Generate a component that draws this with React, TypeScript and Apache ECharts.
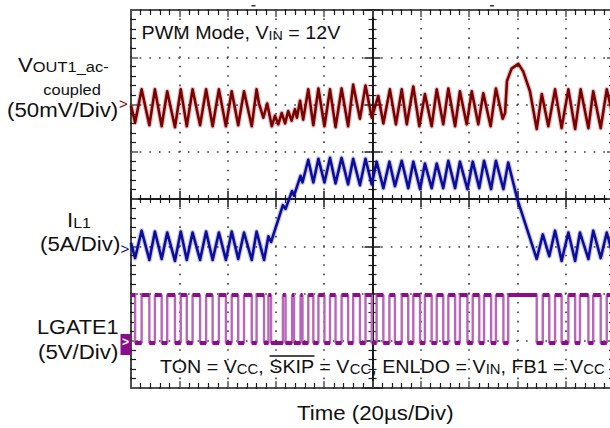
import React, { useEffect, useRef } from 'react';
import * as echarts from 'echarts';

// ---------- scope settings ----------
const TIME_MIN_US = -100;
const TIME_MAX_US = 100;
const TIME_US_PER_DIV = 20;
const DIV_MIN = -4;
const DIV_MAX = 4;

const VOUT_OFFSET_DIV = 2;
const VOUT_MV_PER_DIV = 50;
const IL_OFFSET_DIV = -1.05;
const IL_A_PER_DIV = 5;
const LGATE_OFFSET_DIV = -3.05;
const LGATE_V_PER_DIV = 5;

// ---------- traces ----------
// VOUT1 (ac-coupled): [time µs, mV]
const VOUT_TRACE: number[][] = [
  [-100.0, -1], [-98.3, -19], [-95.6, 16], [-92.4, -22], [-90.1, 16], [-87.3, -23], [-85.0, 14], [-81.8, -24],
  [-79.4, 16], [-76.9, -23], [-74.5, 16], [-71.4, -22], [-68.9, 16], [-66.2, -23], [-63.6, 16], [-60.7, -23],
  [-58.3, 14], [-55.6, -22], [-53.2, 14], [-50.0, -23], [-48.0, 16], [-47.0, 1], [-45.2, -14], [-43.6, 1],
  [-41.7, -23], [-40.4, -12], [-39.0, -21], [-37.6, -9], [-36.2, -20], [-34.9, -7], [-33.5, -17], [-32.1, -5],
  [-31.3, -14], [-30.0, 4], [-28.7, -16], [-26.6, 16], [-24.5, -22], [-22.4, 17], [-19.9, -23], [-17.6, 16],
  [-15.3, -24], [-12.8, 17], [-10.1, -23], [-8.0, 21], [-5.2, -15], [-2.9, 20], [-0.3, -14], [2.4, 9],
  [4.5, -20], [7.2, 16], [9.7, -21], [12.1, 16], [14.2, -21], [16.9, 19], [19.4, -23], [21.7, 11],
  [24.5, -23], [26.6, 16], [29.3, -21], [31.4, 17], [34.2, -23], [36.2, 14], [39.0, -21], [41.1, 14],
  [43.8, -21], [45.9, 12], [48.9, -23], [51.1, 17], [53.9, -15], [54.9, -9], [55.7, 25], [57.6, 38],
  [60.4, 43], [62.4, 35], [65.2, 14], [68.0, -26], [70.1, 11], [72.8, -23], [75.6, 16], [78.3, -25],
  [81.1, 16], [83.9, -26], [86.2, 16], [89.4, -25], [91.4, 14], [94.5, -25], [97.0, 16], [100.0, -17],
];

// IL1: [time µs, A]
const IL_TRACE: number[][] = [
  [-100.0, 0.6], [-98.3, -1.0], [-95.6, 1.9], [-92.4, -1.2], [-90.1, 1.8], [-87.3, -1.1], [-85.0, 1.7],
  [-81.8, -1.3], [-79.4, 1.8], [-76.9, -1.2], [-74.5, 1.7], [-71.4, -1.2], [-68.9, 1.8], [-66.2, -1.2],
  [-63.6, 1.7], [-60.7, -1.2], [-58.3, 1.8], [-55.6, -1.1], [-53.2, 1.7], [-50.0, -1.2], [-48.0, 1.8],
  [-44.9, -1.2], [-43.1, 1.3], [-42.0, 0.7], [-37.1, 4.6], [-36.0, 4.2], [-33.3, 6.1], [-32.5, 5.6],
  [-29.8, 7.7], [-29.0, 7.0], [-26.6, 9.4], [-24.5, 7.0], [-22.4, 9.5], [-19.9, 7.0], [-17.6, 9.6],
  [-15.3, 6.9], [-12.8, 9.6], [-10.1, 6.8], [-8.0, 9.5], [-5.2, 6.7], [-2.9, 9.5], [-0.3, 6.8], [1.7, 9.2],
  [4.5, 6.4], [7.0, 9.2], [9.3, 6.6], [12.1, 9.3], [14.8, 6.4], [16.9, 9.2], [19.7, 6.3], [21.7, 9.0],
  [24.5, 6.4], [26.6, 9.0], [29.3, 6.4], [31.4, 9.3], [34.2, 6.4], [36.2, 9.2], [39.3, 6.3], [41.5, 9.2],
  [44.2, 6.4], [46.2, 9.3], [49.1, 6.3], [51.1, 9.3], [54.2, 6.3], [56.2, 9.1], [60.0, 5.2], [68.0, -1.1],
  [70.5, 1.5], [73.2, -0.8], [75.6, 1.9], [78.3, -1.3], [81.1, 1.7], [83.9, -1.3], [85.9, 1.7], [89.4, -1.1],
  [91.4, 1.9], [94.5, -1.0], [97.0, 1.7], [100.0, -1.1],
];

// LGATE1 edges (µs); trace starts high
const LGATE_FALL_US = [
  -98.3, -92.4, -87.3, -81.8, -76.9, -71.4, -66.2, -60.7, -55.6, -50.0, -44.9, -42.0, -36.0, -32.5, -29.0,
  -24.5, -19.9, -15.3, -10.1, -5.2, -0.3, 4.5, 9.3, 14.8, 19.7, 24.5, 29.3, 34.2, 39.3, 44.2, 49.1, 54.2,
  68.0, 73.2, 78.3, 83.9, 89.4, 94.5,
];
const LGATE_RISE_US = [
  -95.6, -90.1, -85.0, -79.4, -74.5, -68.9, -63.6, -58.3, -53.2, -48.0, -43.1, -37.1, -33.3, -29.8, -26.6,
  -22.4, -17.6, -12.8, -8.0, -2.9, 1.7, 7.0, 12.1, 16.9, 21.7, 26.6, 31.4, 36.2, 41.5, 46.2, 51.1, 56.2,
  70.5, 75.6, 81.1, 85.9, 91.4, 97.0,
];
const LGATE_HIGH_V = 5.1;
const LGATE_LOW_V = 0;

// ---------- styles ----------
const FONT = '"Liberation Sans", Arial, Helvetica, sans-serif';
const fnt = (s: number) => `${s}px ${FONT}`;
const TEXT_COLOR = '#111';
const FRAME = '#1a1a1a';
const DOT = '#3a3a3a';
const VOUT_COLOR = '#7d0000';
const IL_COLOR = '#0d0d9c';
const LGATE_COLOR = '#8c0c8c';
const LGATE_EDGE = '#b866b8';
const SX = 1.06;

function richPair(main: number, mainLH: number, sub: number, subLH: number) {
  return {
    m: { font: fnt(main), fill: TEXT_COLOR, lineHeight: mainLH, verticalAlign: 'bottom' },
    s: { font: fnt(sub), fill: TEXT_COLOR, lineHeight: subLH, verticalAlign: 'bottom' },
  };
}

function txt(x: number, y: number, text: string, size: number, rich?: any) {
  return {
    type: 'text', x, y, scaleX: SX, z: 100,
    style: { text, font: fnt(size), fill: TEXT_COLOR, align: 'left', verticalAlign: 'middle', rich },
  };
}

function buildOption() {
  const vout = VOUT_TRACE.map(([t, mv]) => [t, VOUT_OFFSET_DIV + mv / VOUT_MV_PER_DIV]);
  const il = IL_TRACE.map(([t, a]) => [t, IL_OFFSET_DIV + a / IL_A_PER_DIV]);

  const lg = (v: number) => LGATE_OFFSET_DIV + v / LGATE_V_PER_DIV;
  const edges = [
    ...LGATE_FALL_US.map((t) => ({ t, v: LGATE_LOW_V })),
    ...LGATE_RISE_US.map((t) => ({ t, v: LGATE_HIGH_V })),
  ].sort((a, b) => a.t - b.t);
  let level = LGATE_HIGH_V;
  let segStart = TIME_MIN_US;
  const step: number[][] = [[TIME_MIN_US, lg(level)]];
  const segs: any[] = [];
  for (const e of edges) {
    step.push([e.t, lg(level)]);
    segs.push({ coords: [[segStart, lg(level)], [e.t, lg(level)]] });
    level = e.v;
    segStart = e.t;
    step.push([e.t, lg(level)]);
  }
  step.push([TIME_MAX_US, lg(level)]);
  segs.push({ coords: [[segStart, lg(level)], [TIME_MAX_US, lg(level)]] });

  const frameX = (position: 'top' | 'bottom', grid: boolean) => ({
    type: 'value', min: TIME_MIN_US, max: TIME_MAX_US, interval: TIME_US_PER_DIV, position,
    axisLine: { show: true, onZero: false, lineStyle: { color: FRAME, width: 1.6 } },
    axisTick: { show: true, inside: true, length: 7, lineStyle: { color: '#555', width: 1.5 } },
    minorTick: { show: true, splitNumber: 5, length: 5, lineStyle: { color: FRAME, width: 1.2 } },
    axisLabel: { show: false },
    splitLine: grid
      ? { show: true, lineStyle: { color: DOT, width: 1.6, type: [1.6, 7.85], dashOffset: 0.8 } }
      : { show: false },
  });
  const centerX = (position: 'top' | 'bottom') => ({
    type: 'value', min: TIME_MIN_US, max: TIME_MAX_US, interval: TIME_US_PER_DIV, position,
    axisLine: { show: true, onZero: true, onZeroAxisIndex: 0, lineStyle: { color: FRAME, width: 1.8 } },
    axisTick: { show: true, inside: true, length: 8, lineStyle: { color: FRAME, width: 1.5 } },
    minorTick: { show: true, splitNumber: 5, length: 4, lineStyle: { color: FRAME, width: 1.2 } },
    axisLabel: { show: false }, splitLine: { show: false },
  });
  const frameY = (position: 'left' | 'right', grid: boolean) => ({
    type: 'value', min: DIV_MIN, max: DIV_MAX, interval: 1, position,
    axisLine: { show: true, onZero: false, lineStyle: { color: FRAME, width: 1.6 } },
    axisTick: { show: true, inside: true, length: 7, lineStyle: { color: '#555', width: 1.5 } },
    minorTick: { show: true, splitNumber: 5, length: 5, lineStyle: { color: FRAME, width: 1.2 } },
    axisLabel: { show: false },
    splitLine: grid
      ? { show: true, lineStyle: { color: DOT, width: 1.6, type: [1.6, 8.06], dashOffset: 0.8 } }
      : { show: false },
  });
  const centerY = (position: 'left' | 'right') => ({
    type: 'value', min: DIV_MIN, max: DIV_MAX, interval: 1, position,
    axisLine: { show: true, onZero: true, onZeroAxisIndex: 0, lineStyle: { color: FRAME, width: 1.8 } },
    axisTick: { show: true, inside: true, length: 8, lineStyle: { color: FRAME, width: 1.5 } },
    minorTick: { show: true, splitNumber: 5, length: 4, lineStyle: { color: FRAME, width: 1.2 } },
    axisLabel: { show: false }, splitLine: { show: false },
  });

  const trace = (name: string, data: number[][], color: string) => [
    {
      name: name + '-halo', type: 'line', data, symbol: 'none', silent: true, z: 3,
      lineStyle: { color, width: 5, opacity: 0.22, join: 'round' },
    },
    {
      name, type: 'line', data, symbol: 'none', silent: true, z: 4,
      lineStyle: { color, width: 2.6, join: 'round' },
    },
  ];

  return {
    animation: false,
    backgroundColor: '#fff',
    grid: { left: 131, top: 10, width: 483, height: 378, containLabel: false, outerBoundsMode: 'none' },
    xAxis: [frameX('bottom', true), frameX('top', false), centerX('bottom'), centerX('top')],
    yAxis: [frameY('left', true), frameY('right', false), centerY('left'), centerY('right')],
    series: [
      ...trace('VOUT1', vout, VOUT_COLOR),
      ...trace('IL1', il, IL_COLOR),
      {
        name: 'LGATE1-edges', type: 'line', data: step, symbol: 'none', silent: true, z: 3,
        lineStyle: { color: LGATE_EDGE, width: 2.4 },
      },
      {
        name: 'LGATE1', type: 'lines', coordinateSystem: 'cartesian2d', polyline: false, silent: true, z: 4,
        data: segs, lineStyle: { color: LGATE_COLOR, width: 4, opacity: 1 },
      },
    ],
    graphic: [
      txt(141.5, 31.5, '{m|PWM Mode, V}{s|IN}{m| = 12V}', 18.6, richPair(18.6, 22, 13.5, 13)),
      txt(18, 62.5, '{m|V}{s|OUT1_ac-}', 21, richPair(21, 25, 15.5, 18)),
      txt(43.3, 89.6, 'coupled', 15.5),
      txt(7, 110, '(50mV/Div)', 21),
      txt(67, 217.5, '{m|I}{s|L1}', 21, richPair(21, 25, 15, 17)),
      txt(40, 243.7, '(5A/Div)', 21),
      txt(37, 326.5, 'LGATE1', 20.5),
      txt(38, 351.3, '(5V/Div)', 21),
      txt(160, 365, '{m|TON = V}{s|CC}{m|, SKIP = V}{s|CC}{m|, ENLDO = V}{s|IN}{m|, FB1 = V}{s|CC}', 18.6,
        richPair(18.6, 22, 14, 18)),
      { type: 'line', z: 100, shape: { x1: 269.6, y1: 356, x2: 314.5, y2: 356 }, style: { stroke: TEXT_COLOR, lineWidth: 1.4 } },
      txt(297, 412.5, 'Time (20µs/Div)', 21),
      // channel reference markers
      { type: 'text', x: 119, y: 103.5, z: 100, style: { text: '>', font: fnt(15), fill: VOUT_COLOR, align: 'left', verticalAlign: 'middle' } },
      { type: 'text', x: 120.5, y: 248, z: 100, style: { text: '>', font: fnt(15), fill: IL_COLOR, align: 'left', verticalAlign: 'middle' } },
      { type: 'rect', z: 100, shape: { x: 120.5, y: 334, width: 10.5, height: 21 }, style: { fill: LGATE_COLOR } },
      { type: 'text', x: 122, y: 341.5, z: 101, style: { text: '>', font: `bold ${fnt(12)}`, fill: '#fff', align: 'left', verticalAlign: 'middle' } },
      // top cursor marks
      { type: 'rect', z: 100, shape: { x: 251.5, y: 5, width: 4, height: 1.5 }, style: { fill: '#333' } },
      { type: 'rect', z: 100, shape: { x: 490, y: 5, width: 4, height: 1.5 }, style: { fill: '#333' } },
    ],
  };
}

export default function App() {
  const ref = useRef<HTMLDivElement>(null);
  useEffect(() => {
    if (!ref.current) return;
    const chart = echarts.init(ref.current, null, { renderer: 'svg' });
    chart.setOption(buildOption() as any);
    return () => chart.dispose();
  }, []);
  return (
    <div
      ref={ref}
      style={{ position: 'fixed', left: 0, top: 0, width: 620, height: 428, background: '#fff' }}
    />
  );
}
